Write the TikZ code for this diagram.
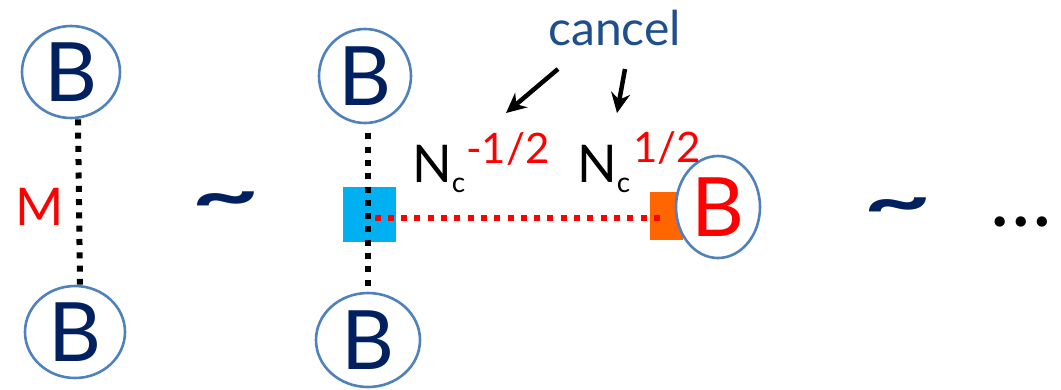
\documentclass[tikz,border=0pt]{standalone}
\usepackage{fontspec}
\setmainfont{Lato}
\usetikzlibrary{shapes.geometric,arrows.meta}
\definecolor{navy}{HTML}{002060}
\definecolor{ringblue}{HTML}{4F81BD}
\definecolor{cancelblue}{HTML}{1F4E8C}
\definecolor{cyanbox}{HTML}{00B0F0}
\definecolor{orangebox}{HTML}{FF6600}
\newcommand{\fs}[1]{\fontsize{#1}{#1}\selectfont}
\newcommand{\flattilde}{\scalebox{1}[0.62]{\textasciitilde}}
\tikzset{
  bnode/.style={ellipse, draw=ringblue, line width=2.6pt, fill=white, inner sep=0pt,
    text=navy, font=\fs{82}},
  dotline/.style={line width=6pt, dash pattern=on 6pt off 7.3pt},
  vertex/.style={rectangle, inner sep=0pt, draw=none},
  hint/.style={line width=4.5pt, -{Stealth[length=20pt,width=19pt]}},
  approx/.style={text=navy, font=\fs{118}\bfseries, inner sep=0pt},
}
\begin{document}
\begin{tikzpicture}[x=1pt,y=-1pt]
\useasboundingbox (0,0) rectangle (1061,389);

% left diagram: baryon pair exchanging a meson
\node[bnode, minimum width=98pt, minimum height=92pt] (lt) at (71,72) {B};
\node[bnode, minimum width=100pt, minimum height=92pt] (lb) at (75,332) {B};
\draw[dotline] ([xshift=7pt]lt.south) -- ([xshift=5pt]lb.north);
\node[text=red, font=\fs{52}, anchor=base, inner sep=0pt] (mlabel) at (40,225) {M};

\node[approx] (tl) at (226,206) {\flattilde};

% middle diagram: meson line with baryon vertex
\node[vertex, fill=cyanbox, minimum width=53pt, minimum height=55pt] (cy) at (369.5,214.5) {};
\node[vertex, fill=orangebox, minimum width=33pt, minimum height=48pt] (or) at (666.5,216) {};
\node[bnode, minimum width=92pt, minimum height=94pt] (mt) at (365,76) {B};
\node[bnode, minimum width=104pt, minimum height=94pt] (mb) at (368,340) {B};
\node[bnode, minimum width=84pt, minimum height=102pt, text=red] (rb) at (718,207) {B};
\draw[dotline] ([xshift=3pt]mt.south) ++(0,9) -- (mb.north);
\draw[dotline, red] ([xshift=5pt,yshift=-3.5pt]cy.center) -- ([xshift=-6pt,yshift=-2pt]or.center);

% powers of N_c
\node[anchor=base west, inner sep=0pt, font=\fs{52}] (nl) at (412,182)
  {N\raisebox{-10pt}{\fs{28}c}\hspace{1pt}\raisebox{19pt}{\fs{42}\color{red}-1/2}};
\node[anchor=base west, inner sep=0pt, font=\fs{52}] (nr) at (577,182)
  {N\raisebox{-10pt}{\fs{28}c}\hspace{3pt}\raisebox{20pt}{\fs{42}\color{red}1/2}};

\node[anchor=base west, inner sep=0pt, text=cancelblue, font=\fs{48}] (cancel) at (548,45) {cancel};
\coordinate (al) at (558,69);
\coordinate (ar) at (625,69);
\coordinate (tipl) at (506,113);
\coordinate (tipr) at (617,113);
\draw[hint] (al) -- (tipl);
\draw[hint] (ar) -- (tipr);

\node[approx] (tr) at (898,212) {\flattilde};
\node[anchor=base, inner sep=0pt, font=\fs{82}] (dots) at (1021,226) {\textellipsis};
\end{tikzpicture}
\end{document}
